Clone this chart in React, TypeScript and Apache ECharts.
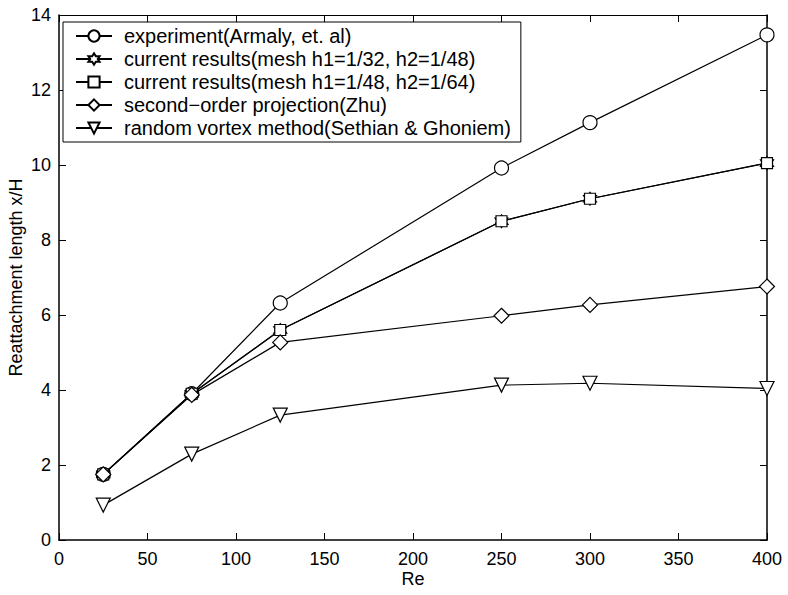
import React, { useEffect, useRef } from "react";
import * as echarts from "echarts";

const reValues = [25, 75, 125, 250, 300, 400];
const experiment = [1.75, 3.9, 6.32, 9.92, 11.13, 13.47];
const mesh32 = [1.75, 3.9, 5.6, 8.5, 9.1, 10.05];
const mesh48 = [1.75, 3.9, 5.6, 8.5, 9.1, 10.05];
const zhu = [1.75, 3.87, 5.27, 5.98, 6.27, 6.76];
const vortex = [0.93, 2.29, 3.33, 4.13, 4.18, 4.04];

const seriesNames = [
  "experiment(Armaly, et. al)",
  "current results(mesh h1=1/32, h2=1/48)",
  "current results(mesh h1=1/48, h2=1/64)",
  "second\u2212order projection(Zhu)",
  "random vortex method(Sethian & Ghoniem)",
];

const xTicks = { min: 0, max: 400, interval: 50 };
const yTicks = { min: 0, max: 14, interval: 2 };

const hexagram =
  "path://M0,-100 L28.87,-50 L86.6,-50 L57.7,0 L86.6,50 L28.87,50 L0,100 L-28.87,50 L-86.6,50 L-57.7,0 L-86.6,-50 L-28.87,-50 Z";

const FONT = "'Liberation Sans', Arial, Helvetica, sans-serif";

export default function App() {
  const ref = useRef<HTMLDivElement>(null);
  useEffect(() => {
    if (!ref.current) return;
    const chart = echarts.init(ref.current, null, { renderer: "svg" });
    const valuesList = [experiment, mesh32, mesh48, zhu, vortex];
    const symbols: any[] = ["circle", hexagram, "rect", "diamond", "triangle"];
    const sizes = [14, 13, 11, 15, 14];
    const rotates = [0, 0, 0, 0, 180];
    const series = valuesList.map((vals, i) => ({
      name: seriesNames[i],
      type: "line",
      data: reValues.map((x, j) => [x, vals[j]]),
      symbol: symbols[i],
      symbolSize: sizes[i],
      symbolRotate: rotates[i],
      showAllSymbol: true,
      lineStyle: { color: "#000", width: 1.2 },
      itemStyle: { color: "#fff", borderColor: "#000", borderWidth: 1.2 },
      emphasis: { disabled: true },
      z: 2 + i,
    }));
    const axisLabelStyle = { color: "#000", fontSize: 18, fontFamily: FONT };
    chart.setOption({
      animation: false,
      backgroundColor: "#fff",
      grid: { left: 59, right: 21, top: 15, bottom: 55, containLabel: false, outerBoundsMode: "none" },
      legend: {
        data: seriesNames,
        orient: "vertical",
        left: 63,
        top: 22,
        padding: [4, 10, 4, 12],
        itemGap: 3,
        itemWidth: 36,
        itemHeight: 14,
        backgroundColor: "#fff",
        borderColor: "#000",
        borderWidth: 1,
        borderRadius: 0,
        selectedMode: false,
        textStyle: { color: "#000", fontSize: 20, fontFamily: FONT, padding: [0, 0, 0, 7] },
      },
      xAxis: [
        {
          type: "value",
          ...xTicks,
          name: "Re",
          nameLocation: "middle",
          nameGap: 30,
          nameMoveOverlap: false,
          nameTextStyle: { color: "#000", fontSize: 18, fontFamily: FONT },
          axisLine: { show: true, onZero: false, lineStyle: { color: "#000", width: 1.5 } },
          axisTick: { inside: true, length: 7, lineStyle: { color: "#000" } },
          axisLabel: { ...axisLabelStyle, margin: 10 },
          splitLine: { show: false },
        },
        {
          type: "value",
          position: "top",
          ...xTicks,
          axisLine: { show: true, onZero: false, lineStyle: { color: "#000", width: 1 } },
          axisTick: { inside: true, length: 7, lineStyle: { color: "#000" } },
          axisLabel: { show: false },
          splitLine: { show: false },
        },
      ],
      yAxis: [
        {
          type: "value",
          ...yTicks,
          name: "Reattachment length x/H",
          nameLocation: "middle",
          nameGap: 34,
          nameMoveOverlap: false,
          nameTextStyle: { color: "#000", fontSize: 18, fontFamily: FONT },
          axisLine: { show: true, onZero: false, lineStyle: { color: "#000", width: 1.5 } },
          axisTick: { inside: true, length: 7, lineStyle: { color: "#000" } },
          axisLabel: { ...axisLabelStyle, margin: 8 },
          splitLine: { show: false },
        },
        {
          type: "value",
          position: "right",
          ...yTicks,
          axisLine: { show: true, onZero: false, lineStyle: { color: "#000", width: 1.5 } },
          axisTick: { inside: true, length: 7, lineStyle: { color: "#000" } },
          axisLabel: { show: false },
          splitLine: { show: false },
        },
      ],
      series,
    });
    return () => chart.dispose();
  }, []);
  return <div ref={ref} style={{ width: 788, height: 595, position: "absolute", left: 0, top: 0 }} />;
}
